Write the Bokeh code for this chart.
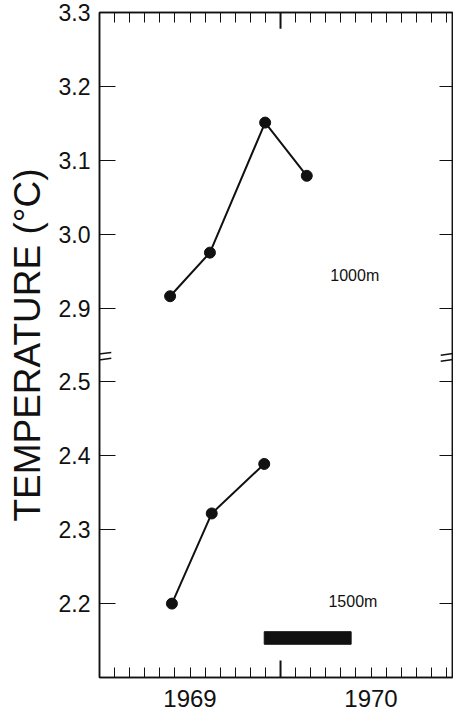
from bokeh.plotting import figure
from bokeh.models import Range1d, LinearAxis, FixedTicker, Arrow, ColumnDataSource
from bokeh.core.properties import value
from bokeh.embed import file_html
from bokeh.resources import INLINE

# ---- data ----
dates_1000 = [1969.39, 1969.61, 1969.915, 1970.145]
temp_1000 = [2.916, 2.975, 3.151, 3.079]
dates_1500 = [1969.40, 1969.62, 1969.91]
temp_1500 = [2.200, 2.322, 2.389]
bar_start = [1969.91]
bar_end = [1970.39]
bar_low = [2.145]
bar_high = [2.162]
lower_ticks = [2.2, 2.3, 2.4, 2.5]
upper_ticks = [2.9, 3.0, 3.1, 3.2, 3.3]
year_labels = {1969.5: "1969", 1970.5: "1970"}
year_boundaries = [1970.0]
month_ticks = [1969 + k / 12 for k in range(1, 24)]
y_title = "TEMPERATURE (°C)"

FONT = "Liberation Sans"
INK = "#111111"

lower = Range1d(2.1, 3.0)
upper = Range1d(2.4, 3.3)
GAP = round(upper.start - lower.start, 3)

p = figure(width=453, height=712, x_range=Range1d(1969.0, 1970.95), y_range=lower,
           x_axis_type=None, y_axis_type=None,
           output_backend="svg", toolbar_location=None,
           min_border_left=99, min_border_right=1, min_border_top=12, min_border_bottom=35)
p.extra_y_ranges = {"upper": upper}
p.outline_line_color = INK
p.outline_line_width = 1.5
p.background_fill_color = "white"
p.border_fill_color = "white"

# y axis (broken): lower ticks in lower range, upper ticks mapped into same frame
ytick_pos = [round(t, 2) for t in lower_ticks] + [round(t - GAP, 2) for t in upper_ticks]
ytick_lab = [f"{t:.1f}" for t in lower_ticks + upper_ticks]
overrides = {pos: lab for pos, lab in zip(ytick_pos, ytick_lab)}

yl = LinearAxis(ticker=FixedTicker(ticks=ytick_pos, minor_ticks=[]),
                major_label_overrides=overrides,
                axis_label=y_title,
                axis_label_text_font=FONT, axis_label_text_font_size="37px",
                axis_label_text_font_style="normal", axis_label_text_color=INK,
                axis_label_standoff=8,
                major_label_text_font=FONT, major_label_text_font_size="23px",
                major_label_text_color=INK, major_label_standoff=9,
                major_tick_in=16, major_tick_out=0, minor_tick_in=0, minor_tick_out=0,
                axis_line_color=INK, axis_line_width=1.5,
                major_tick_line_color=INK, major_tick_line_width=1.2)
p.add_layout(yl, "left")

yr = LinearAxis(ticker=FixedTicker(ticks=ytick_pos, minor_ticks=[]),
                major_label_overrides={pos: "" for pos in ytick_pos},
                major_label_standoff=0,
                major_tick_in=13, major_tick_out=0, minor_tick_in=0, minor_tick_out=0,
                axis_line_color=INK, axis_line_width=1.5,
                major_tick_line_color=INK, major_tick_line_width=1.2)
p.add_layout(yr, "right")

xb = LinearAxis(ticker=FixedTicker(ticks=list(year_labels.keys()), minor_ticks=month_ticks),
                major_label_overrides=year_labels,
                major_label_text_font=FONT, major_label_text_font_size="24px",
                major_label_text_color=INK, major_label_standoff=12,
                major_tick_in=0, major_tick_out=0, minor_tick_in=10, minor_tick_out=0,
                axis_line_color=INK, axis_line_width=1.5,
                minor_tick_line_color=INK, minor_tick_line_width=1)
p.add_layout(xb, "below")

xt = LinearAxis(ticker=FixedTicker(ticks=[], minor_ticks=month_ticks),
                major_label_standoff=0,
                major_tick_in=0, major_tick_out=0, minor_tick_in=10, minor_tick_out=0,
                axis_line_color=INK, axis_line_width=1.5,
                minor_tick_line_color=INK, minor_tick_line_width=1)
p.add_layout(xt, "above")

# long ticks at year boundary (bottom and top)
for xb_ in year_boundaries:
    p.segment(x0=[xb_], x1=[xb_], y0=[lower.start], y1=[lower.start + 0.023],
              line_color=INK, line_width=2)
    p.segment(x0=[xb_], x1=[xb_], y0=[upper.end], y1=[upper.end - 0.022],
              line_color=INK, line_width=2, y_range_name="upper")

# data
src1 = ColumnDataSource(dict(x=dates_1000, y=temp_1000))
p.line("x", "y", source=src1, y_range_name="upper", line_color=INK, line_width=2)
p.scatter("x", "y", source=src1, y_range_name="upper", size=11, color=INK)

src2 = ColumnDataSource(dict(x=dates_1500, y=temp_1500))
p.line("x", "y", source=src2, line_color=INK, line_width=2)
p.scatter("x", "y", source=src2, size=11, color=INK)

p.quad(left=bar_start, right=bar_end, bottom=bar_low, top=bar_high, color=INK)

p.text(x=[1970.41], y=[2.944], text=["1000m"], y_range_name="upper",
       text_font=value(FONT), text_font_size="16px", text_color=INK,
       text_align="center", text_baseline="middle")
p.text(x=[1970.40], y=[2.203], text=["1500m"],
       text_font=value(FONT), text_font_size="16px", text_color=INK,
       text_align="center", text_baseline="middle")

# axis break marks
break_y = [2.538, 2.530]
xs = p.x_range
for by in break_y:
    p.add_layout(Arrow(end=None, x_start=xs.start - 0.055, x_end=xs.start + 0.065,
                       y_start=by - 0.002, y_end=by + 0.002,
                       line_color=INK, line_width=1.5))
    p.add_layout(Arrow(end=None, x_start=xs.end - 0.065, x_end=xs.end + 0.045,
                       y_start=by - 0.002, y_end=by + 0.002,
                       line_color=INK, line_width=1.5))

open("out.html", "w").write(file_html(p, INLINE))
